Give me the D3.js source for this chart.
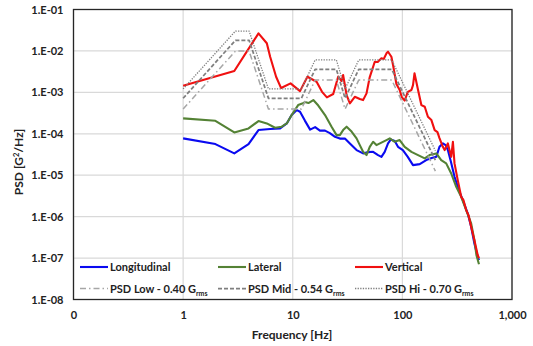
<!DOCTYPE html>
<html>
<head>
<meta charset="utf-8">
<script src="https://cdn.jsdelivr.net/npm/d3@7"></script>
<style>
  body { margin: 0; background: #fff; }
  text { font-family: Lato, "Open Sans", sans-serif; fill: #222; }
</style>
</head>
<body>
<div class="chart"></div>
<script>
// measured series (frequency in Hz, PSD in G^2/Hz)
const longFreq = [1, 1.97, 2.93, 3.95, 4.87, 6.22, 7.67, 8.82, 9.77, 10.9, 11.65, 12.9, 14.4, 16.0, 17.7, 19.7, 21.8, 24.3, 26.9, 29.9, 33.2, 38.2, 43.8, 48.7, 54.1, 60.0, 64.4, 69.0, 74.0, 78.3, 85.2, 91.2, 101, 112, 125, 144, 165, 185, 204, 218, 234, 248, 260, 279, 299, 332, 356, 395, 424, 454, 487, 500];
const longPsd = [7.74e-5, 5.64e-5, 3.36e-5, 5.64e-5, 1.23e-4, 1.30e-4, 1.35e-4, 1.78e-4, 2.83e-4, 3.73e-4, 3.4e-4, 2.08e-4, 1.26e-4, 1.45e-4, 1.19e-4, 1.19e-4, 1.04e-4, 8.47e-5, 7.66e-5, 7.66e-5, 5.8e-5, 4.04e-5, 3.36e-5, 3.61e-5, 3.67e-5, 3.06e-5, 2.78e-5, 3.67e-5, 5.86e-5, 7.24e-5, 6.67e-5, 4.85e-5, 4.04e-5, 2.78e-5, 1.75e-5, 1.85e-5, 2.32e-5, 2.59e-5, 2.78e-5, 4.85e-5, 5.86e-5, 5.33e-5, 4.04e-5, 1.96e-5, 9.14e-6, 3.97e-6, 2.5e-6, 1.19e-6, 5.67e-7, 2.25e-7, 1.07e-7, 8.9e-8];

const latFreq = [1, 1.97, 2.93, 3.95, 4.87, 5.80, 6.90, 7.94, 8.82, 9.77, 11.2, 12.2, 12.9, 13.9, 15.4, 17.1, 19.7, 22.6, 25.1, 26.9, 28.8, 31.0, 34.4, 38.2, 40.9, 43.8, 47.1, 50.4, 54.1, 58.0, 64.4, 71.6, 76.7, 85.2, 94.5, 105, 121, 139, 160, 177, 204, 226, 251, 279, 310, 344, 382, 424, 454, 474, 500];
const latPsd = [2.36e-4, 2.06e-4, 1.08e-4, 1.35e-4, 2.03e-4, 1.78e-4, 1.40e-4, 1.48e-4, 1.78e-4, 2.83e-4, 4.93e-4, 5.36e-4, 5.83e-4, 5.52e-4, 6.52e-4, 4.8e-4, 2.83e-4, 1.48e-4, 9.3e-5, 9.3e-5, 1.23e-4, 1.48e-4, 1.13e-4, 7.74e-5, 5.33e-5, 3.67e-5, 3.06e-5, 4.85e-5, 6.41e-5, 5.33e-5, 6.13e-5, 7.05e-5, 7.74e-5, 6.41e-5, 7.05e-5, 4.85e-5, 3.67e-5, 3.06e-5, 2.55e-5, 3.06e-5, 3.36e-5, 2.32e-5, 1.93e-5, 1.10e-5, 5.25e-6, 3.01e-6, 1.44e-6, 6.86e-7, 2.71e-7, 1.17e-7, 7.1e-8];

const vertFreq = [1, 2.93, 4.87, 5.80, 6.22, 7.05, 7.83, 9.55, 11.65, 13.6, 16.5, 18.5, 20.5, 23.4, 26.0, 27.9, 28.8, 31.0, 33.2, 36.8, 40.9, 43.8, 47.1, 50.4, 56.0, 59.6, 64.4, 67.6, 71.6, 74.0, 79.4, 82.2, 88.2, 94.5, 98.6, 105, 112, 121, 125, 129, 139, 149, 160, 171, 184, 197, 209, 218, 234, 243, 260, 269, 279, 289, 299, 320, 344, 361, 382, 401, 424, 454, 487, 500];
const vertPsd = [1.44e-3, 3.27e-3, 2.66e-2, 1.53e-2, 7.24e-3, 2.38e-3, 1.27e-3, 1.65e-3, 1.07e-3, 2.38e-3, 1.80e-3, 1.03e-3, 7.57e-4, 9.1e-4, 2.41e-3, 1.88e-3, 2.62e-3, 8.6e-4, 5.42e-4, 7.83e-4, 6.9e-4, 6.5e-4, 9.46e-4, 2.34e-3, 5.48e-3, 5.4e-3, 6.62e-3, 6.37e-3, 8.75e-3, 9.57e-3, 7.24e-3, 4.56e-3, 1.59e-3, 1.14e-3, 7.7e-4, 6.34e-4, 1.03e-3, 1.14e-3, 1.5e-3, 2.88e-3, 1.14e-3, 4.93e-4, 4.49e-4, 2.58e-4, 2.14e-4, 1.23e-4, 1.1e-4, 7.87e-5, 4.85e-5, 4.04e-5, 5.86e-5, 4.04e-5, 2.78e-5, 6.41e-5, 1.93e-5, 7.62e-6, 3.01e-6, 2.5e-6, 1.44e-6, 1.09e-6, 5.67e-7, 2.71e-7, 1.17e-7, 1.0e-7];

// test profiles
const psdFreq = [1, 3, 4, 6, 12, 16, 25, 30, 40, 80, 200];
const psdLow = [0.000395, 0.0099, 0.0099, 0.000395, 0.000395, 0.00198, 0.00198, 0.000395, 0.00198, 0.00198, 0.0000126];
const psdMid = [0.00072, 0.018, 0.018, 0.00072, 0.00072, 0.0036, 0.0036, 0.00072, 0.0036, 0.0036, 0.000023];
const psdHi = [0.00121, 0.0302, 0.0302, 0.00121, 0.00121, 0.00605, 0.00605, 0.00121, 0.00605, 0.00605, 0.000039];

const xTicks = [0.1, 1, 10, 100, 1000];
const xTickLabels = ["0", "1", "10", "100", "1,000"];
const yTicks = [1e-8, 1e-7, 1e-6, 1e-5, 1e-4, 1e-3, 1e-2, 1e-1];
const yTickLabels = ["1.E-08", "1.E-07", "1.E-06", "1.E-05", "1.E-04", "1.E-03", "1.E-02", "1.E-01"];

const W = 533, H = 346;
const margin = { top: 9.5, right: 21, bottom: 46.5, left: 73.5 };
const width = W - margin.left - margin.right;
const height = H - margin.top - margin.bottom;

const svg = d3.select('.chart').append('svg')
  .attr('width', W).attr('height', H);
const g = svg.append('g').attr('transform', `translate(${margin.left},${margin.top})`);

const x = d3.scaleLog().domain([0.1, 1000]).range([0, width]);
const y = d3.scaleLog().domain([1e-8, 1e-1]).range([height, 0]);

// grid
g.append('g').selectAll('line').data(yTicks).join('line')
  .attr('x1', 0).attr('x2', width)
  .attr('y1', d => y(d)).attr('y2', d => y(d))
  .attr('stroke', '#d9d9d9').attr('stroke-width', 1.2);
g.append('g').selectAll('line').data(xTicks).join('line')
  .attr('y1', 0).attr('y2', height)
  .attr('x1', d => x(d)).attr('x2', d => x(d))
  .attr('stroke', '#d9d9d9').attr('stroke-width', 1.2);

// axes (labels only, frame drawn below)
const xAxis = g.append('g').attr('transform', `translate(0,${height})`)
  .call(d3.axisBottom(x).tickValues(xTicks).tickSize(0).tickPadding(12)
    .tickFormat((d, i) => xTickLabels[i]));
const yAxis = g.append('g')
  .call(d3.axisLeft(y).tickValues(yTicks).tickSize(0).tickPadding(10)
    .tickFormat((d, i) => yTickLabels[i]));
[xAxis, yAxis].forEach(a => {
  a.select('.domain').remove();
  a.selectAll('text').style('font-family', 'Lato, sans-serif')
    .style('font-size', '11px').style('font-weight', 'bold').attr('fill', '#222');
});

const line = d3.line().x(d => x(d[0])).y(d => y(d[1]));
const zip = (a, b) => a.map((v, i) => [v, b[i]]);

const series = [
  { name: 'Longitudinal', data: zip(longFreq, longPsd), color: '#0a0af0', width: 2.1, dash: null },
  { name: 'Lateral', data: zip(latFreq, latPsd), color: '#548235', width: 2.1, dash: null },
  { name: 'Vertical', data: zip(vertFreq, vertPsd), color: '#f01010', width: 2.1, dash: null },
  { name: 'PSD Low - 0.40 G', data: zip(psdFreq, psdLow), color: '#a6a6a6', width: 1.5, dash: '6,3,1.5,3' },
  { name: 'PSD Mid - 0.54 G', data: zip(psdFreq, psdMid), color: '#7f7f7f', width: 1.75, dash: '4,2' },
  { name: 'PSD Hi - 0.70 G', data: zip(psdFreq, psdHi), color: '#7f7f7f', width: 1.3, dash: '1.3,1.3' }
];

g.append('g').selectAll('path').data(series).join('path')
  .attr('d', d => line(d.data))
  .attr('fill', 'none')
  .attr('stroke', d => d.color)
  .attr('stroke-width', d => d.width)
  .attr('stroke-dasharray', d => d.dash)
  .attr('stroke-linejoin', 'round');

// plot frame
g.append('rect').attr('x', 0).attr('y', 0).attr('width', width).attr('height', height)
  .attr('fill', 'none').attr('stroke', '#262626').attr('stroke-width', 1.3);

// legend
const legX = [80, 218, 355];
const legY = [267, 288.5];
const leg = svg.append('g');
series.forEach((s, i) => {
  const lx = legX[i % 3], ly = legY[Math.floor(i / 3)];
  leg.append('line')
    .attr('x1', lx).attr('x2', lx + 28).attr('y1', ly).attr('y2', ly)
    .attr('stroke', s.color).attr('stroke-width', s.width)
    .attr('stroke-dasharray', s.dash);
  const t = leg.append('text')
    .attr('x', lx + 30).attr('y', ly + 4)
    .style('font-size', '11px').style('font-weight', 'bold')
    .text(s.name);
  if (i >= 3) {
    t.append('tspan').attr('dy', 3).style('font-size', '7px').text('rms');
  }
});

// axis titles
svg.append('text')
  .attr('x', 292).attr('y', 339)
  .attr('text-anchor', 'middle')
  .style('font-size', '12px').style('font-weight', 'bold')
  .text('Frequency [Hz]');

const yt = svg.append('text')
  .attr('transform', 'translate(23,162) rotate(-90)')
  .attr('text-anchor', 'middle')
  .style('font-size', '12px').style('font-weight', 'bold')
  .text('PSD [G');
yt.append('tspan').attr('dy', -4).style('font-size', '7.5px').text('2');
yt.append('tspan').attr('dy', 4).text('/Hz]');
</script>
</body>
</html>
